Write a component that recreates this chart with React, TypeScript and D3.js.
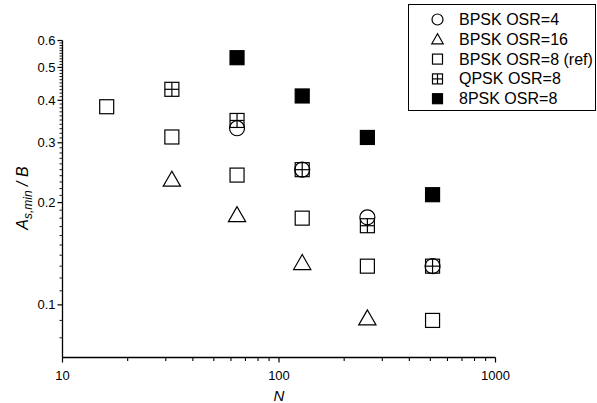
import React from "react";
import * as d3 from "d3";

const W = 597;
const H = 403;

const bpsk4N = [64, 128, 256, 512];
const bpsk4Y = [0.331, 0.25, 0.181, 0.13];

const bpsk16N = [32, 64, 128, 256];
const bpsk16Y = [0.234, 0.184, 0.133, 0.0914];

const bpsk8N = [16, 32, 64, 128, 256, 512];
const bpsk8Y = [0.383, 0.312, 0.241, 0.18, 0.13, 0.09];

const qpsk8N = [32, 64, 128, 256, 512];
const qpsk8Y = [0.431, 0.349, 0.25, 0.171, 0.13];

const psk8N = [64, 128, 256, 512];
const psk8Y = [0.534, 0.412, 0.311, 0.211];

const xMajorTicks = [10, 100, 1000];
const yMajorTicks = [0.1, 0.2, 0.3, 0.4, 0.5, 0.6];

const legendLabels = [
  "BPSK OSR=4",
  "BPSK OSR=16",
  "BPSK OSR=8 (ref)",
  "QPSK OSR=8",
  "8PSK OSR=8",
];

type Kind = "circle" | "triangle" | "square" | "crossed" | "filled";
const kinds: Kind[] = ["circle", "triangle", "square", "crossed", "filled"];

const FONT = "'Liberation Sans', Arial, Helvetica, sans-serif";

function Marker({ kind, x, y, s }: { kind: Kind; x: number; y: number; s: number }) {
  const h = s / 2;
  const sw = 1.2;
  if (kind === "circle") {
    return <circle cx={x} cy={y} r={h + 0.5} fill="none" stroke="#000" strokeWidth={sw} />;
  }
  if (kind === "triangle") {
    const tw = s * 1.15;
    const th = s * 1.0;
    const pts = [
      [x, y - th * 0.55],
      [x - tw / 2, y + th * 0.45],
      [x + tw / 2, y + th * 0.45],
    ];
    return (
      <polygon
        points={pts.map((p) => p.join(",")).join(" ")}
        fill="none"
        stroke="#000"
        strokeWidth={sw}
        strokeLinejoin="miter"
      />
    );
  }
  if (kind === "square") {
    return <rect x={x - h} y={y - h} width={s} height={s} fill="none" stroke="#000" strokeWidth={sw} />;
  }
  if (kind === "crossed") {
    return (
      <g fill="none" stroke="#000" strokeWidth={sw}>
        <rect x={x - h} y={y - h} width={s} height={s} />
        <line x1={x - h} x2={x + h} y1={y} y2={y} />
        <line x1={x} x2={x} y1={y - h} y2={y + h} />
      </g>
    );
  }
  return <rect x={x - h} y={y - h} width={s} height={s} fill="#000" stroke="#000" strokeWidth={sw} />;
}

export default function App() {
  const x = d3.scaleLog().domain([10, 1000]).range([62.5, 495.5]);
  const y = d3.scaleLog().domain([0.07, 0.6]).range([357.5, 40.5]);

  const x0 = x.range()[0];
  const y0 = y.range()[0];

  const xMinor: number[] = [];
  for (const dec of [10, 100]) for (let k = 2; k <= 9; k++) xMinor.push(dec * k);

  const yMinor: number[] = [];
  for (let i = 8; i <= 60; i++) {
    const v = i / 100;
    if (!yMajorTicks.some((t) => Math.abs(t - v) < 1e-9)) yMinor.push(v);
  }

  const series: { kind: Kind; n: number[]; v: number[]; s: number }[] = [
    { kind: "square", n: bpsk8N, v: bpsk8Y, s: 14 },
    { kind: "triangle", n: bpsk16N, v: bpsk16Y, s: 15 },
    { kind: "crossed", n: qpsk8N, v: qpsk8Y, s: 14 },
    { kind: "circle", n: bpsk4N, v: bpsk4Y, s: 14 },
    { kind: "filled", n: psk8N, v: psk8Y, s: 14 },
  ];

  return (
    <svg
      width={W}
      height={H}
      style={{ position: "fixed", left: 0, top: 0, background: "#fff" }}
      fontFamily={FONT}
    >
      <rect x={0} y={0} width={W} height={H} fill="#fff" />

      {/* x axis */}
      <line x1={x0} x2={x.range()[1]} y1={y0} y2={y0} stroke="#000" strokeWidth={1.3} />
      {xMajorTicks.map((t) => (
        <g key={"xM" + t}>
          <line x1={x(t)} x2={x(t)} y1={y0} y2={y0 + 5} stroke="#000" strokeWidth={1.2} />
          <text x={x(t)} y={y0 + 22} textAnchor="middle" fontSize={13}>
            {t}
          </text>
        </g>
      ))}
      {xMinor.map((t) => (
        <line key={"xm" + t} x1={x(t)} x2={x(t)} y1={y0} y2={y0 + 3.5} stroke="#000" strokeWidth={1.1} />
      ))}
      <text x={x(100)} y={y0 + 43} textAnchor="middle" fontSize={15} fontStyle="italic">
        N
      </text>

      {/* y axis */}
      <line x1={x0} x2={x0} y1={y.range()[1]} y2={y0} stroke="#000" strokeWidth={1.3} />
      {yMajorTicks.map((t) => (
        <g key={"yM" + t}>
          <line x1={x0 - 5} x2={x0} y1={y(t)} y2={y(t)} stroke="#000" strokeWidth={1.2} />
          <text x={x0 - 7} y={y(t) + 4.5} textAnchor="end" fontSize={13}>
            {t}
          </text>
        </g>
      ))}
      {yMinor.map((t) => (
        <line key={"ym" + t} x1={x0 - 3} x2={x0} y1={y(t)} y2={y(t)} stroke="#000" strokeWidth={0.9} />
      ))}
      <text
        transform={`translate(28, 198) rotate(-90)`}
        textAnchor="middle"
        fontSize={16}
        fontStyle="italic"
      >
        A
        <tspan fontSize={12} dy={4}>
          s,min
        </tspan>
        <tspan dy={-4}> / B</tspan>
      </text>

      {/* data */}
      {series.map((s) =>
        s.n.map((n, i) => (
          <Marker key={s.kind + n} kind={s.kind} x={x(n)} y={y(s.v[i])} s={s.s} />
        ))
      )}

      {/* legend */}
      <rect x={408.5} y={4.5} width={187} height={106} fill="#fff" stroke="#000" strokeWidth={1} />
      {legendLabels.map((lab, i) => (
        <g key={lab}>
          <Marker kind={kinds[i]} x={437.5} y={19.5 + i * 19.8} s={10} />
          <text x={459} y={19.5 + i * 19.8 + 5.5} fontSize={16}>
            {lab}
          </text>
        </g>
      ))}
    </svg>
  );
}
